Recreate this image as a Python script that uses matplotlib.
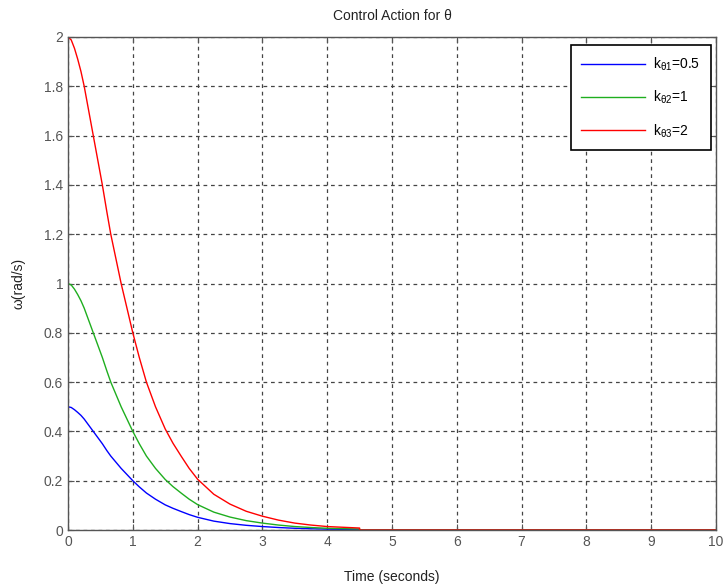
import matplotlib
matplotlib.use("Agg")
import matplotlib.pyplot as plt

plt.rcParams['font.family'] = ['Liberation Sans', 'DejaVu Sans']
plt.rcParams['mathtext.fontset'] = 'custom'
plt.rcParams['mathtext.rm'] = 'Liberation Sans'
plt.rcParams['mathtext.it'] = 'Liberation Sans'

# time samples (seconds)
t = [0, 0.05, 0.1, 0.15, 0.2, 0.25, 0.32, 0.39, 0.46, 0.53, 0.6, 0.66, 0.74, 0.82, 0.91,
     1.0, 1.1, 1.21, 1.35, 1.5, 1.62, 1.75, 1.87, 2.0, 2.25, 2.5, 2.75, 3.0, 3.25, 3.5,
     3.75, 4.0, 4.5, 4.5, 10]
# series values
w_k1 = [0.5, 0.497, 0.488, 0.477, 0.465, 0.45, 0.425, 0.40, 0.375, 0.35, 0.322, 0.30, 0.275,
        0.25, 0.225, 0.20, 0.175, 0.15, 0.125, 0.102, 0.088, 0.0745, 0.0625, 0.0515, 0.036,
        0.026, 0.019, 0.014, 0.010, 0.007, 0.005, 0.0035, 0.002, 0.0, 0.0]
w_k2 = [1.0, 0.994, 0.977, 0.955, 0.93, 0.90, 0.85, 0.80, 0.75, 0.70, 0.645, 0.60, 0.55,
        0.50, 0.45, 0.40, 0.35, 0.30, 0.25, 0.205, 0.176, 0.149, 0.125, 0.103, 0.0725,
        0.0525, 0.038, 0.028, 0.020, 0.014, 0.010, 0.007, 0.004, 0.0, 0.0]
w_k3 = [2.0, 1.988, 1.954, 1.91, 1.86, 1.80, 1.70, 1.60, 1.50, 1.40, 1.29, 1.20, 1.10,
        1.00, 0.90, 0.80, 0.70, 0.60, 0.50, 0.41, 0.352, 0.298, 0.250, 0.206, 0.145,
        0.105, 0.076, 0.056, 0.040, 0.028, 0.020, 0.014, 0.008, 0.0, 0.0]
labels = [r'k$_{\theta1}$=0.5', r'k$_{\theta2}$=1', r'k$_{\theta3}$=2']
colors = ['#0000ff', '#1fae1f', '#ff0000']

fig = plt.figure(figsize=(7.25, 5.88), dpi=100)
ax = fig.add_axes([68/725, 1-530/588, (716-68)/725, (530-37)/588])

for y, lab, c in zip([w_k1, w_k2, w_k3], labels, colors):
    ax.plot(t, y, color=c, lw=1.0, label=lab)

ax.set_xlim(0, 10)
ax.set_ylim(0, 2)
ax.set_xticks(range(0, 11))
ax.set_yticks([0, 0.2, 0.4, 0.6, 0.8, 1, 1.2, 1.4, 1.6, 1.8, 2])
ax.set_yticklabels(['0', '0.2', '0.4', '0.6', '0.8', '1', '1.2', '1.4', '1.6', '1.8', '2'])
ax.grid(True, color='#444444', linestyle=(0, (3, 3)), linewidth=0.9)
ax.tick_params(direction='in', length=4, colors='#555555', labelsize=10, top=True, right=True,
               labelcolor='#555555')
for s in ax.spines.values():
    s.set_color('#555555')
    s.set_linewidth(1.0)

ax.set_title('Control Action for θ', fontsize=10, color='#222222', pad=12)
ax.set_xlabel('Time (seconds)', fontsize=10, color='#222222', labelpad=15)
ax.set_ylabel('ω(rad/s)', fontsize=10, color='#222222', labelpad=13)

leg = ax.legend(loc='upper right', bbox_to_anchor=(1 - 5/648, 1 - 8/493), borderaxespad=0,
                fontsize=10, handlelength=4.6, labelspacing=1.15, borderpad=0.75,
                handletextpad=0.6, fancybox=False, framealpha=1, edgecolor='black')
leg.get_frame().set_linewidth(1.2)

fig.savefig('out.png', dpi=100)
